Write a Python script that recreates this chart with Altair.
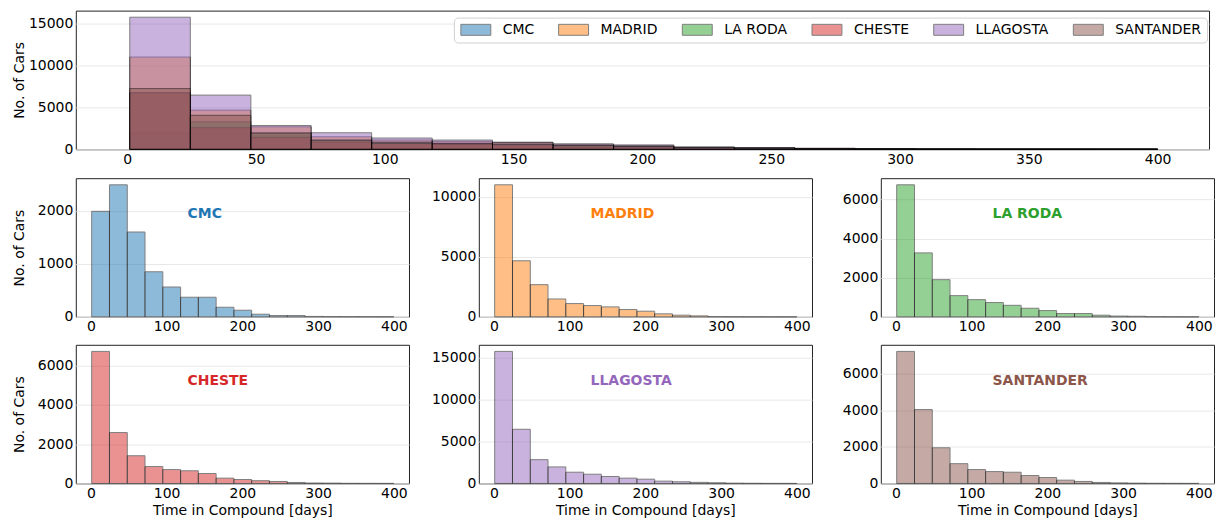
import altair as alt
import pandas as pd

# Histogram bin edges (days in compound), shared by every compound
bin_edges = [1.0, 24.5, 48.0, 71.4, 94.9, 118.4, 141.8, 165.3, 188.8, 212.2,
             235.7, 259.2, 282.6, 306.1, 329.6, 353.0, 376.5, 400.0]

compounds = ["CMC", "MADRID", "LA RODA", "CHESTE", "LLAGOSTA", "SANTANDER"]
palette = ["#1f77b4", "#ff7f0e", "#2ca02c", "#d62728", "#9467bd", "#8c564b"]

# Cars per bin for each compound
cmc = [1990, 2490, 1600, 850, 563, 370, 370, 181, 125, 50, 25, 25, 8, 5, 4, 3, 2]
madrid = [11000, 4670, 2680, 1490, 1105, 940, 830, 610, 470, 250, 140, 80, 20, 10, 6, 4, 3]
la_roda = [6750, 3270, 1900, 1085, 880, 730, 590, 440, 320, 170, 170, 85, 40, 30, 10, 5, 3]
cheste = [6720, 2590, 1410, 860, 705, 645, 505, 270, 200, 140, 100, 50, 20, 15, 5, 3, 2]
llagosta = [15750, 6460, 2835, 1970, 1340, 1100, 830, 630, 510, 275, 200, 130, 80, 30, 15, 5, 3]
santander = [7240, 4050, 1955, 1085, 760, 650, 615, 435, 325, 180, 110, 55, 30, 15, 8, 5, 3]

series = [cmc, madrid, la_roda, cheste, llagosta, santander]

y_ticks = {
    "CMC": [0, 1000, 2000],
    "MADRID": [0, 5000, 10000],
    "LA RODA": [0, 2000, 4000, 6000],
    "CHESTE": [0, 2000, 4000, 6000],
    "LLAGOSTA": [0, 5000, 10000, 15000],
    "SANTANDER": [0, 2000, 4000, 6000],
}
top_y_ticks = [0, 5000, 10000, 15000]
top_x_ticks = [0, 50, 100, 150, 200, 250, 300, 350, 400]
panel_x_ticks = [0, 100, 200, 300, 400]

X_DOMAIN = [-19.95, 419.95]
FONT = "DejaVu Sans"


def hist_frame(name, counts, k):
    return pd.DataFrame({
        "compound": name,
        "k": k,
        "start": bin_edges[:-1],
        "end": bin_edges[1:],
        "count": counts,
    })


frames = [hist_frame(n, s, i) for i, (n, s) in enumerate(zip(compounds, series))]
all_df = pd.concat(frames, ignore_index=True)
top_max = max(max(s) for s in series) * 1.05

# Wide patch-style legend swatch: a 30x11 px rectangle drawn in a 10 px slot
swatch = "M-3,-1.1H3V1.1H-3Z"

top = alt.Chart(all_df).mark_rect(
    opacity=0.5, stroke="black", strokeWidth=1
).encode(
    x=alt.X("start:Q", scale=alt.Scale(domain=X_DOMAIN, nice=False, zero=False),
            axis=alt.Axis(values=top_x_ticks, title=None, labelFlush=False)),
    x2="end:Q",
    y=alt.Y("count:Q", stack=None,
            scale=alt.Scale(domain=[0, top_max], nice=False),
            axis=alt.Axis(values=top_y_ticks, format="d", title="No. of Cars")),
    y2=alt.datum(0),
    color=alt.Color(
        "compound:N",
        scale=alt.Scale(domain=compounds, range=palette),
        legend=alt.Legend(
            title=None, orient="none", legendX=379, legendY=7,
            direction="horizontal", columns=6,
            symbolType=swatch, symbolSize=100, symbolOffset=10,
            symbolStrokeColor="black", symbolStrokeWidth=1, symbolOpacity=0.5,
            labelFont=FONT, labelFontSize=14, labelColor="black",
            labelOffset=20, columnPadding=22, padding=5,
            fillColor="white", strokeColor="#d0d0d0", cornerRadius=4,
        ),
    ),
    order=alt.Order("k:Q"),
).properties(width=1136, height=139)


def panel(i, left_col, bottom_row):
    name, counts, color = compounds[i], series[i], palette[i]
    df = hist_frame(name, counts, i)
    bars = alt.Chart(df).mark_rect(
        color=color, opacity=0.5, stroke="black", strokeWidth=1
    ).encode(
        x=alt.X("start:Q", scale=alt.Scale(domain=X_DOMAIN, nice=False, zero=False),
                axis=alt.Axis(values=panel_x_ticks, labelFlush=False,
                              title="Time in Compound [days]" if bottom_row else None)),
        x2="end:Q",
        y=alt.Y("count:Q", scale=alt.Scale(domain=[0, max(counts) * 1.05], nice=False),
                axis=alt.Axis(values=y_ticks[name], format="d",
                              title="No. of Cars" if left_col else None)),
        y2=alt.datum(0),
    )
    label = alt.Chart(pd.DataFrame({"name": [name]})).mark_text(
        align="left", baseline="middle", font=FONT, fontSize=14,
        fontWeight="bold", color=color
    ).encode(x=alt.value(112), y=alt.value(36), text="name:N")
    return (bars + label).properties(width=334, height=139)


row1 = alt.hconcat(panel(0, True, False), panel(1, False, False), panel(2, False, False), spacing=20)
row2 = alt.hconcat(panel(3, True, True), panel(4, False, True), panel(5, False, True), spacing=20)
rows = alt.vconcat(row1, row2, spacing=9)

chart = alt.vconcat(top, rows, spacing=10).properties(
    padding={"left": 12, "top": 9, "right": 2, "bottom": 0}
).configure(font=FONT).configure_view(
    stroke="#222222", strokeWidth=1
).configure_axis(
    labelFont=FONT, labelFontSize=14, labelColor="black",
    titleFont=FONT, titleFontSize=14, titleFontWeight="normal", titleColor="black",
    ticks=False, domain=False, gridColor="#e8e8e8", gridWidth=1, labelPadding=3,
).configure_axisX(grid=False, titlePadding=3).configure_axisY(
    minExtent=47, maxExtent=47, titlePadding=2
)

chart.save("out.html", embed_options={"renderer": "svg", "actions": False})
